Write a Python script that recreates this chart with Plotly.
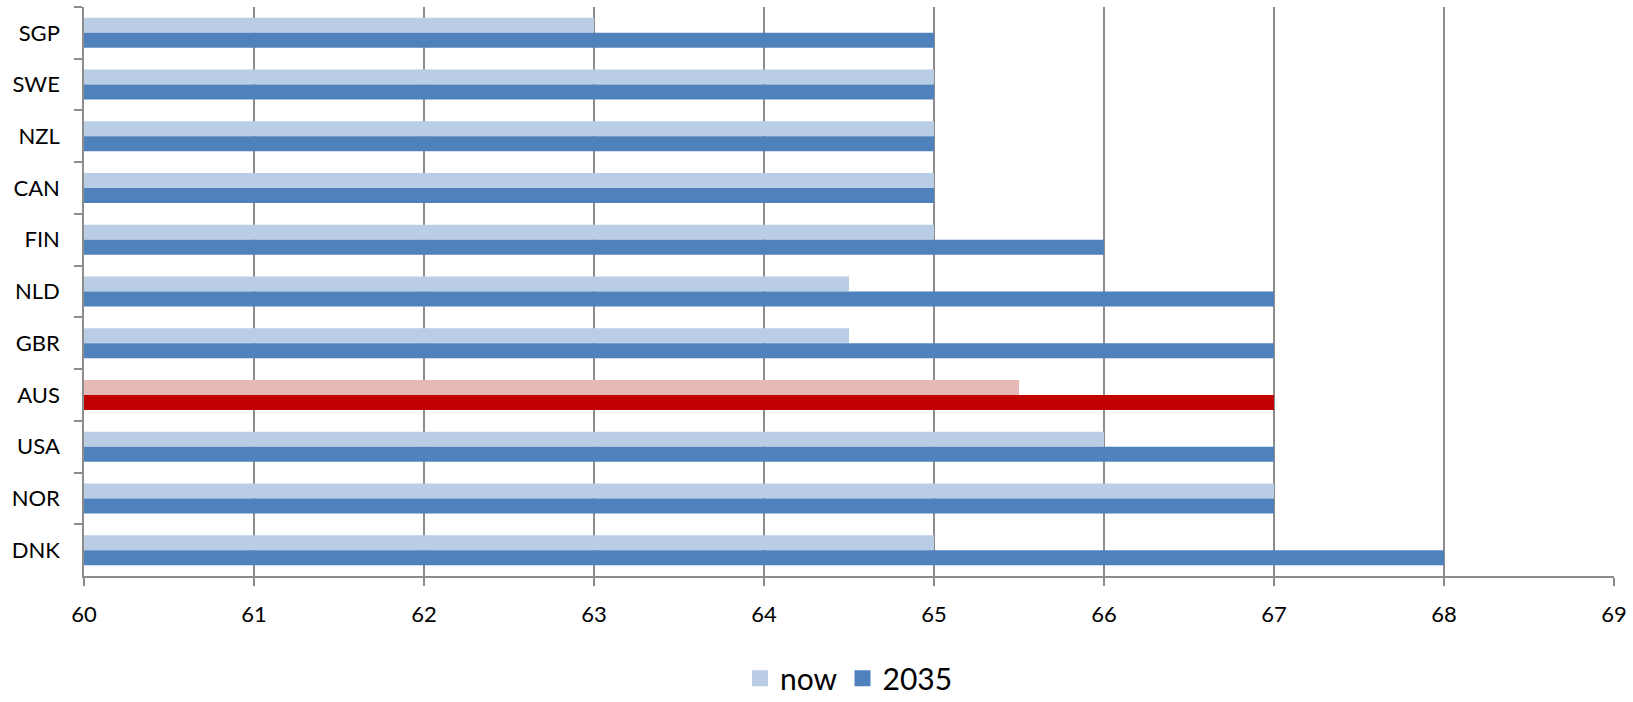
import plotly.graph_objects as go

countries = ["SGP", "SWE", "NZL", "CAN", "FIN", "NLD", "GBR", "AUS", "USA", "NOR", "DNK"]
now_vals = [63, 65, 65, 65, 65, 64.5, 64.5, 65.5, 66, 67, 65]
y2035_vals = [65, 65, 65, 65, 66, 67, 67, 67, 67, 67, 68]
x_ticks = [60, 61, 62, 63, 64, 65, 66, 67, 68, 69]

LIGHT = "#B9CDE5"
DARK = "#4F81BD"
HL_LIGHT = "#E6B9B8"
HL_DARK = "#C00000"
highlight = "AUS"

now_colors = [HL_LIGHT if c == highlight else LIGHT for c in countries]
dark_colors = [HL_DARK if c == highlight else DARK for c in countries]

fig = go.Figure()
fig.add_trace(go.Bar(
    name="now", y=countries, x=[v - 60 for v in now_vals], base=60,
    orientation="h", marker=dict(color=now_colors, line=dict(width=0)),
    showlegend=False,
))
fig.add_trace(go.Bar(
    name="2035", y=countries, x=[v - 60 for v in y2035_vals], base=60,
    orientation="h", marker=dict(color=dark_colors, line=dict(width=0)),
    showlegend=False,
))
# legend entries
fig.add_trace(go.Scatter(name="now", x=[None], y=[None], mode="markers",
                         marker=dict(symbol="square", size=20, color=LIGHT)))
fig.add_trace(go.Scatter(name="2035", x=[None], y=[None], mode="markers",
                         marker=dict(symbol="square", size=20, color=DARK)))

FONT = "Lato, Open Sans, sans-serif"
fig.update_layout(
    width=1633, height=702,
    margin=dict(l=84, r=19, t=7, b=126, autoexpand=False),
    paper_bgcolor="white", plot_bgcolor="white",
    barmode="group", bargap=0.42, bargroupgap=0,
    font=dict(family=FONT, size=22, color="black"),
    showlegend=True,
    legend=dict(orientation="h", x=0.5, xanchor="center", xref="paper",
                y=0.034, yref="container", yanchor="middle",
                font=dict(size=30), itemsizing="trace", traceorder="normal",
                itemwidth=30, tracegroupgap=0),
    xaxis=dict(
        range=[60, 69], tickvals=x_ticks, ticktext=[str(t) for t in x_ticks],
        showgrid=True, gridcolor="#8C8C8C", gridwidth=1.5,
        showline=True, linecolor="#8C8C8C", linewidth=1.5,
        ticks="outside", ticklen=8, tickcolor="#8C8C8C", tickwidth=1.5,
        zeroline=False, tickfont=dict(size=22), ticklabelstandoff=10,
    ),
    yaxis=dict(
        autorange="reversed", type="category",
        showline=True, linecolor="#8C8C8C", linewidth=1.5,
        ticks="outside", ticklen=8, tickcolor="#8C8C8C", tickwidth=1.5,
        tickson="boundaries", showgrid=False, tickfont=dict(size=22),
        ticklabelstandoff=18,
    ),
)

fig.write_html("out.html")
